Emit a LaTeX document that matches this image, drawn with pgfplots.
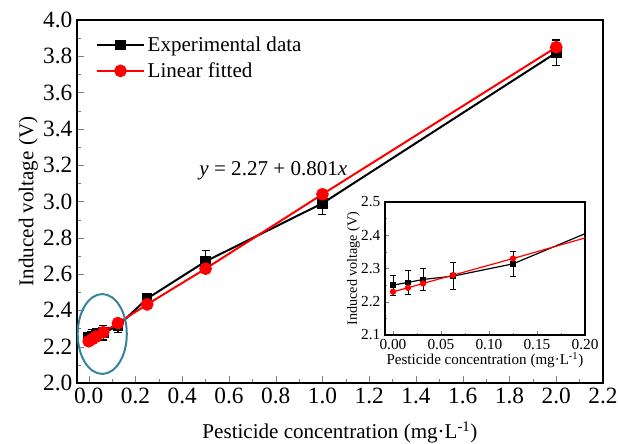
\documentclass[border=0pt]{standalone}
\usepackage{fontspec}
\setmainfont{Liberation Serif}
\usepackage{pgfplots}
\pgfplotsset{compat=1.18}
\definecolor{ringblue}{RGB}{52,132,156}
\definecolor{fitred}{RGB}{255,0,0}

% experimental data with error
\pgfplotstableread{
x       y      e
0       2.250  0.030
0.0156  2.258  0.035
0.03125 2.267  0.033
0.0625  2.277  0.040
0.125   2.314  0.037
0.25    2.465  0.010
0.5     2.670  0.060
1.0     2.990  0.060
2.0     3.820  0.070
}\expdata
% linear fitted values
\pgfplotstableread{
x       y
0       2.230
0.0156  2.242
0.03125 2.255
0.0625  2.280
0.125   2.330
0.25    2.433
0.5     2.630
1.0     3.040
2.0     3.850
}\fitdata

\begin{document}
\begin{tikzpicture}
\pgfplotsset{
  every axis/.append style={
    scale only axis,
    tick align=inside,
    xtick pos=bottom, ytick pos=left,
    /pgf/number format/assume math mode=true,
    axis line style={line width=0.8pt},
  },
}
\begin{axis}[
    at={(0pt,0pt)}, anchor=south west,
    width=394.5pt, height=272.25pt,
    xmin=-0.05, xmax=2.2, ymin=2.0, ymax=4.0,
    xtick={0,0.2,...,2.2}, ytick={2.0,2.2,...,4.0},
    minor tick num=1,
    major tick length=5pt, minor tick length=3pt,
    xticklabel style={/pgf/number format/.cd,fixed,fixed zerofill,precision=1},
    yticklabel style={/pgf/number format/.cd,fixed,fixed zerofill,precision=1},
    tick label style={font=\fontsize{17.5}{20}\selectfont},
    label style={font=\fontsize{15.8}{19}\selectfont},
    xlabel style={yshift=-7pt},
    ylabel style={yshift=-3pt},
    xlabel={Pesticide concentration (mg·L\textsuperscript{-1})},
    ylabel={Induced voltage (V)},
    legend style={draw=none, fill=none, at={(0.028,0.97)}, anchor=north west,
        font=\fontsize{15.8}{19}\selectfont, row sep=3pt},
    legend cell align=left,
    legend image code/.code={\draw[mark repeat=2,mark phase=2]
        plot coordinates {(0cm,0cm)(0.62cm,0cm)(1.24cm,0cm)};},
]
\addplot[black, line width=1.5pt, mark=square*, mark size=3.2pt,
    error bars/.cd, y dir=both, y explicit,
    error bar style={line width=1pt}, error mark options={rotate=90, mark size=3pt, line width=1pt}]
    table[x=x, y=y, y error=e] {\expdata};
\addlegendentry{Experimental data}
\addplot[fitred, line width=1.5pt, mark=*, mark size=4pt]
    table[x=x, y=y] {\fitdata};
\addlegendentry{Linear fitted}
\draw[ringblue, line width=1.5pt] (axis cs:0.058,2.27) ellipse [x radius=0.105, y radius=0.22];
\node[font=\fontsize{15.8}{19}\selectfont] at (axis cs:0.79,3.17)
    {\textit{y} = 2.27 + 0.801\textit{x}};
\end{axis}

\begin{axis}[
    at={(231pt,36pt)}, anchor=south west,
    width=150pt, height=99.75pt,
    axis background/.style={fill=white},
    xmin=-0.0083, xmax=0.2, ymin=2.1, ymax=2.5,
    xtick={0,0.05,...,0.2}, ytick={2.1,2.2,...,2.5},
    minor tick num=1,
    major tick length=3pt, minor tick length=1.8pt,
    xticklabel style={/pgf/number format/.cd,fixed,fixed zerofill,precision=2},
    yticklabel style={/pgf/number format/.cd,fixed,fixed zerofill,precision=1},
    tick label style={font=\fontsize{11.5}{13}\selectfont},
    xlabel style={font=\fontsize{11.3}{13}\selectfont, yshift=5pt},
    ylabel style={font=\fontsize{10.6}{12}\selectfont, yshift=-6pt},
    xlabel={Pesticide concentration (mg·L\textsuperscript{-1})},
    ylabel={Induced voltage (V)},
]
\addplot[black, line width=0.9pt, mark=square*, mark size=1.6pt,
    error bars/.cd, y dir=both, y explicit,
    error bar style={line width=0.6pt}, error mark options={rotate=90, mark size=2pt, line width=0.6pt}]
    table[x=x, y=y, y error=e] {\expdata};
\addplot[fitred, line width=0.9pt, mark=*, mark size=1.9pt]
    table[x=x, y=y] {\fitdata};
\end{axis}
\pgfresetboundingbox
\path[use as bounding box] (-57.75pt,-45pt) rectangle (405.75pt,287.25pt);
\end{tikzpicture}
\end{document}
